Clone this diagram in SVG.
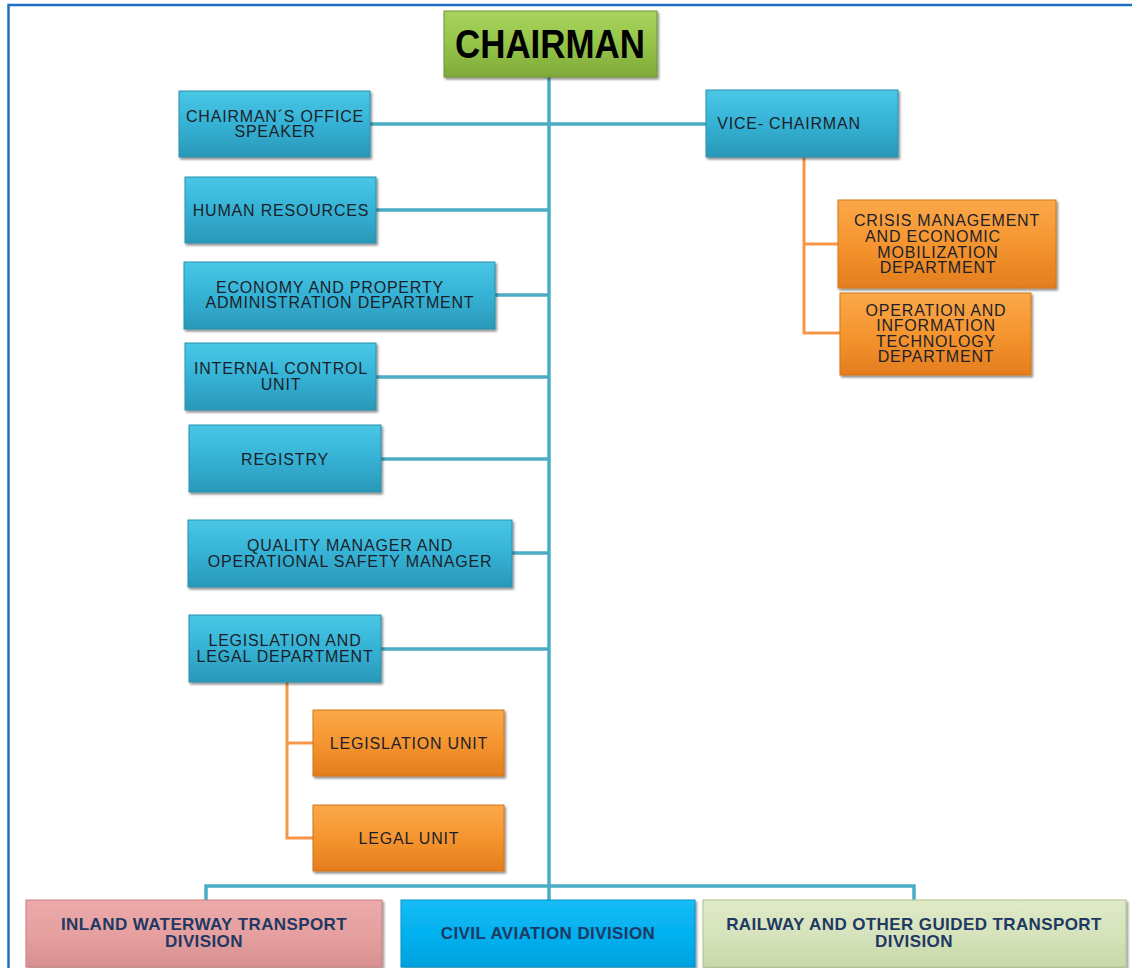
<svg xmlns="http://www.w3.org/2000/svg" width="1132" height="968" viewBox="0 0 1132 968">
<defs>
<linearGradient id="gBlue" x1="0" y1="0" x2="0" y2="1">
<stop offset="0" stop-color="#4ac7e6"/><stop offset="0.5" stop-color="#35b2d5"/><stop offset="1" stop-color="#2a98b8"/>
</linearGradient>
<linearGradient id="gOrange" x1="0" y1="0" x2="0" y2="1">
<stop offset="0" stop-color="#fba84a"/><stop offset="0.5" stop-color="#f5952f"/><stop offset="1" stop-color="#e47d1e"/>
</linearGradient>
<linearGradient id="gGreen" x1="0" y1="0" x2="0" y2="1">
<stop offset="0" stop-color="#a9d35e"/><stop offset="0.5" stop-color="#95c448"/><stop offset="1" stop-color="#7fa93a"/>
</linearGradient>
<linearGradient id="gPink" x1="0" y1="0" x2="0" y2="1">
<stop offset="0" stop-color="#ecaaaa"/><stop offset="0.5" stop-color="#e5a09f"/><stop offset="1" stop-color="#d99090"/>
</linearGradient>
<linearGradient id="gSky" x1="0" y1="0" x2="0" y2="1">
<stop offset="0" stop-color="#16bcf5"/><stop offset="0.5" stop-color="#02b1ef"/><stop offset="1" stop-color="#00a2de"/>
</linearGradient>
<linearGradient id="gLime" x1="0" y1="0" x2="0" y2="1">
<stop offset="0" stop-color="#dfeac6"/><stop offset="0.5" stop-color="#d6e3bc"/><stop offset="1" stop-color="#c8d8a8"/>
</linearGradient>
<filter id="sh" x="-5%" y="-10%" width="115%" height="130%">
<feDropShadow dx="1.5" dy="2" stdDeviation="1.2" flood-color="#000" flood-opacity="0.45"/>
</filter>
<style>
.box{filter:url(#sh);stroke-width:1}
.blue{fill:url(#gBlue);stroke:#2a8fae}
.orange{fill:url(#gOrange);stroke:#d27618}
.t{font-family:"Liberation Sans",Arial,sans-serif;font-size:16px;letter-spacing:0.8px;fill:#1c1f2a;text-anchor:middle}
.d{font-family:"Liberation Sans",Arial,sans-serif;font-size:17px;letter-spacing:0.4px;font-weight:bold;fill:#1f3864;text-anchor:middle}
.cb{fill:none;stroke:#4bacc6;stroke-width:3.5}
.co{fill:none;stroke:#f79646;stroke-width:3}
</style>
</defs>
<rect width="1132" height="968" fill="#ffffff"/>
<g id="frame">
<path d="M8.5 968 V5 H1132" fill="none" stroke="#1f6fc0" stroke-width="2.5"/>
</g>
<g id="connectors">
<path class="cb" d="M549 77 V888"/>
<path class="cb" d="M370 124 H706"/>
<path class="cb" d="M376 210 H549"/>
<path class="cb" d="M495 295 H549"/>
<path class="cb" d="M376 377 H549"/>
<path class="cb" d="M381 459 H549"/>
<path class="cb" d="M512 553 H549"/>
<path class="cb" d="M381 649 H549"/>
<path class="cb" d="M206 900 V886 H914 V900"/>
<path class="cb" d="M549 886 V900"/>
<path class="co" d="M804 157 V333 H840"/>
<path class="co" d="M804 244 H838"/>
<path class="co" d="M287 682 V838 H313"/>
<path class="co" d="M287 743 H313"/>
</g>
<g id="chairman">
<rect class="box" x="444" y="11" width="213" height="66" fill="url(#gGreen)" stroke="#6f9630"/>
<text x="550" y="58" font-family="'Liberation Sans',Arial,sans-serif" font-size="41" font-weight="bold" fill="#000" text-anchor="middle" textLength="190" lengthAdjust="spacingAndGlyphs">CHAIRMAN</text>
</g>
<g id="office">
<rect class="box blue" x="179" y="91" width="191" height="66"/>
<text class="t" x="275" y="122">CHAIRMAN´S OFFICE</text>
<text class="t" x="275" y="137">SPEAKER</text>
</g>
<g id="hr">
<rect class="box blue" x="185" y="177" width="191" height="66"/>
<text class="t" x="281" y="216">HUMAN RESOURCES</text>
</g>
<g id="economy">
<rect class="box blue" x="184" y="262" width="311" height="67"/>
<text class="t" x="330" y="293">ECONOMY AND PROPERTY</text>
<text class="t" x="340" y="308">ADMINISTRATION DEPARTMENT</text>
</g>
<g id="internal">
<rect class="box blue" x="185" y="343" width="191" height="67"/>
<text class="t" x="281" y="374">INTERNAL CONTROL</text>
<text class="t" x="281" y="390">UNIT</text>
</g>
<g id="registry">
<rect class="box blue" x="189" y="425" width="192" height="67"/>
<text class="t" x="285" y="465">REGISTRY</text>
</g>
<g id="quality">
<rect class="box blue" x="188" y="520" width="324" height="67"/>
<text class="t" x="350" y="551">QUALITY MANAGER AND</text>
<text class="t" x="350" y="567">OPERATIONAL SAFETY MANAGER</text>
</g>
<g id="legal-dept">
<rect class="box blue" x="189" y="615" width="192" height="67"/>
<text class="t" x="285" y="646">LEGISLATION AND</text>
<text class="t" x="285" y="662">LEGAL DEPARTMENT</text>
</g>
<g id="legislation-unit">
<rect class="box orange" x="313" y="710" width="191" height="66"/>
<text class="t" x="409" y="749">LEGISLATION UNIT</text>
</g>
<g id="legal-unit">
<rect class="box orange" x="313" y="805" width="191" height="66"/>
<text class="t" x="409" y="844">LEGAL UNIT</text>
</g>
<g id="vice">
<rect class="box blue" x="706" y="90" width="192" height="67"/>
<text class="t" x="789" y="129">VICE- CHAIRMAN</text>
</g>
<g id="crisis">
<rect class="box orange" x="838" y="200" width="218" height="88"/>
<text class="t" x="947" y="226">CRISIS MANAGEMENT</text>
<text class="t" x="933" y="242">AND ECONOMIC</text>
<text class="t" x="938" y="258">MOBILIZATION</text>
<text class="t" x="938" y="273">DEPARTMENT</text>
</g>
<g id="operation">
<rect class="box orange" x="840" y="293" width="191" height="82"/>
<text class="t" x="936" y="316">OPERATION AND</text>
<text class="t" x="936" y="331">INFORMATION</text>
<text class="t" x="936" y="347">TECHNOLOGY</text>
<text class="t" x="936" y="362">DEPARTMENT</text>
</g>
<g id="inland">
<rect class="box" x="26" y="900" width="356" height="67" fill="url(#gPink)" stroke="#c98080"/>
<text class="d" x="204" y="930">INLAND WATERWAY TRANSPORT</text>
<text class="d" x="204" y="947">DIVISION</text>
</g>
<g id="civil">
<rect class="box" x="401" y="900" width="294" height="67" fill="url(#gSky)" stroke="#0093c8"/>
<text class="d" x="548" y="939">CIVIL AVIATION DIVISION</text>
</g>
<g id="railway">
<rect class="box" x="703" y="900" width="423" height="67" fill="url(#gLime)" stroke="#b0c48c"/>
<text class="d" x="914" y="930">RAILWAY AND OTHER GUIDED TRANSPORT</text>
<text class="d" x="914" y="947">DIVISION</text>
</g>
</svg>
